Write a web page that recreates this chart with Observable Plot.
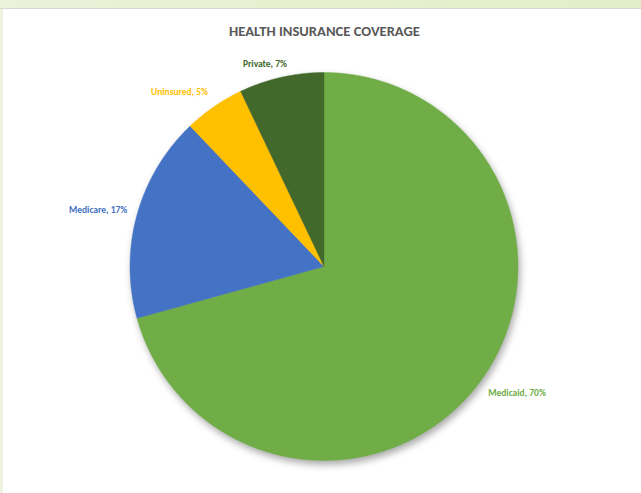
<!DOCTYPE html>
<html>
<head>
<meta charset="utf-8">
<script src="https://cdn.jsdelivr.net/npm/d3@7"></script>
<script src="https://cdn.jsdelivr.net/npm/@observablehq/plot@0.6"></script>
<style>
  html, body { margin: 0; padding: 0; background: #ffffff; width: 641px; height: 493px; overflow: hidden; }
  #band { position: absolute; left: 0; top: 0; width: 641px; height: 8px; background: linear-gradient(90deg, #eaf2d8, #e2eec8); border-bottom: 1px solid #d6d9cf; }
  #side { position: absolute; left: 0; top: 9px; width: 3px; height: 484px; background: #eef3df; }
  #chart { position: absolute; left: 0; top: 0; }
</style>
</head>
<body>
<div id="band"></div>
<div id="side"></div>
<div id="chart"></div>
<script>
// Data
const categories = ["Medicaid", "Medicare", "Uninsured", "Private"];
const values = [70, 17, 5, 7];
const colors = ["#70AD47", "#4472C4", "#FFC000", "#43682B"];
const title = "HEALTH INSURANCE COVERAGE";

// Layout (styles)
const W = 641, H = 493, cx = 323.5, cy = 266, R = 194;
const labelRadius = [1.19, 1.2, 1.17, 1.09];
const labelAngleShift = [-4, -1.5, -5, -3.5]; // degrees

// Build slice polygons from values
const pie = d3.pie().sort(null).value(d => d.value)(categories.map((name, i) => ({name, value: values[i]})));
const slicePts = [];
const labels = [];
pie.forEach((s, i) => {
  const name = s.data.name;
  slicePts.push({name, x: 0, y: 0});
  const n = Math.max(2, Math.ceil((s.endAngle - s.startAngle) / (Math.PI / 360)));
  for (let k = 0; k <= n; k++) {
    const a = s.startAngle + (s.endAngle - s.startAngle) * k / n;
    slicePts.push({name, x: Math.sin(a), y: Math.cos(a)});
  }
  slicePts.push({name, x: 0, y: 0});
  const mid = (s.startAngle + s.endAngle) / 2 + labelAngleShift[i] * Math.PI / 180;
  labels.push({name, text: `${name}, ${values[i]}%`, x: labelRadius[i] * Math.sin(mid), y: labelRadius[i] * Math.cos(mid)});
});

const font = "Carlito, 'Liberation Sans Narrow', 'Open Sans', sans-serif";

const plot = Plot.plot({
  width: W,
  height: H,
  margin: 0,
  style: {background: "transparent", fontFamily: font, overflow: "visible"},
  x: {domain: [-cx / R, (W - cx) / R], range: [0, W], axis: null},
  y: {domain: [-(H - cy) / R, cy / R], range: [H, 0], axis: null},
  color: {domain: categories, range: colors},
  marks: [
    Plot.line(slicePts, {x: "x", y: "y", z: "name", fill: "name", stroke: "name", strokeWidth: 0.4, curve: "linear"}),
    Plot.text(labels, {x: "x", y: "y", text: "text", fill: "name", fontSize: 9.5, fontWeight: "bold", textAnchor: "middle"}),
    Plot.text([title], {frameAnchor: "top", dx: 3.5, dy: 25, fill: "#595959", fontSize: 14.6, fontWeight: "bold", text: d => d})
  ]
});

d3.select(plot).select('g[aria-label="line"]').style("filter", "drop-shadow(2px 4px 3.5px rgba(0,0,0,0.33))");
document.getElementById("chart").appendChild(plot);
</script>
</body>
</html>
